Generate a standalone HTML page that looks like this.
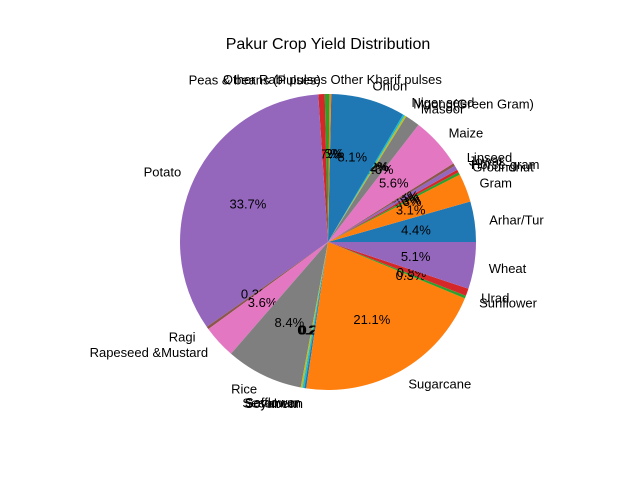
<!DOCTYPE html>
<html><head><meta charset="utf-8"><style>body{margin:0;background:#fff}svg{font-family:"Liberation Sans","DejaVu Sans",sans-serif}</style></head>
<body>
<svg id="c" width="640" height="480">
<text x="328" y="49" text-anchor="middle" font-size="16">Pakur Crop Yield Distribution</text>
</svg>
<script>
const categories=["Arhar/Tur","Gram","Groundnut","Horse-gram","Jowar","Linseed","Maize","Masoor","Moong(Green Gram)","Niger seed","Onion","Other Kharif pulses","Other Rabi pulses","Peas & beans (Pulses)","Potato","Ragi","Rapeseed &Mustard","Rice","Safflower","Sesamum","Soyabean","Sugarcane","Sunflower","Urad","Wheat"];
const values=[4.4,3.1,0.3,0.3,0.5,0.3,5.6,1.6,0.2,0.2,8.1,0.2,0.5,0.7,33.6,0.3,3.6,8.4,0.2,0.2,0.2,21.1,0.3,0.8,5.1];
const colors=["#1f77b4","#ff7f0e","#2ca02c","#d62728","#9467bd","#8c564b","#e377c2","#7f7f7f","#bcbd22","#17becf"];
const svg=document.getElementById('c');const NS="http://www.w3.org/2000/svg";
const cx=328,cy=242,r=148;
const total=values.reduce((a,b)=>a+b,0);
let a0=0;
values.forEach((v,i)=>{
  const a1=a0+v/total*2*Math.PI;
  const p=document.createElementNS(NS,'path');
  const x0=cx+r*Math.cos(a0),y0=cy-r*Math.sin(a0),x1=cx+r*Math.cos(a1),y1=cy-r*Math.sin(a1);
  p.setAttribute('d',`M${cx},${cy}L${x0},${y0}A${r},${r} 0 ${a1-a0>Math.PI?1:0} 0 ${x1},${y1}Z`);
  p.setAttribute('fill',colors[i%10]);
  
  
  svg.appendChild(p);
  const am=(a0+a1)/2,c=Math.cos(am),s=Math.sin(am);
  const t=document.createElementNS(NS,'text');
  t.setAttribute('x',cx+1.1*r*c);t.setAttribute('y',cy-1.1*r*s+5);
  t.setAttribute('text-anchor',c>0?'start':'end');t.setAttribute('font-size','13');
  t.textContent=categories[i];
  
  
  svg.appendChild(t);
  const q=document.createElementNS(NS,'text');
  q.setAttribute('x',cx+0.6*r*c);q.setAttribute('y',cy-0.6*r*s+5);
  q.setAttribute('text-anchor','middle');q.setAttribute('font-size','13');
  q.textContent=(v/total*100).toFixed(1)+'%';
  
  
  svg.appendChild(q);
  a0=a1;
});
</script>
</body></html>
